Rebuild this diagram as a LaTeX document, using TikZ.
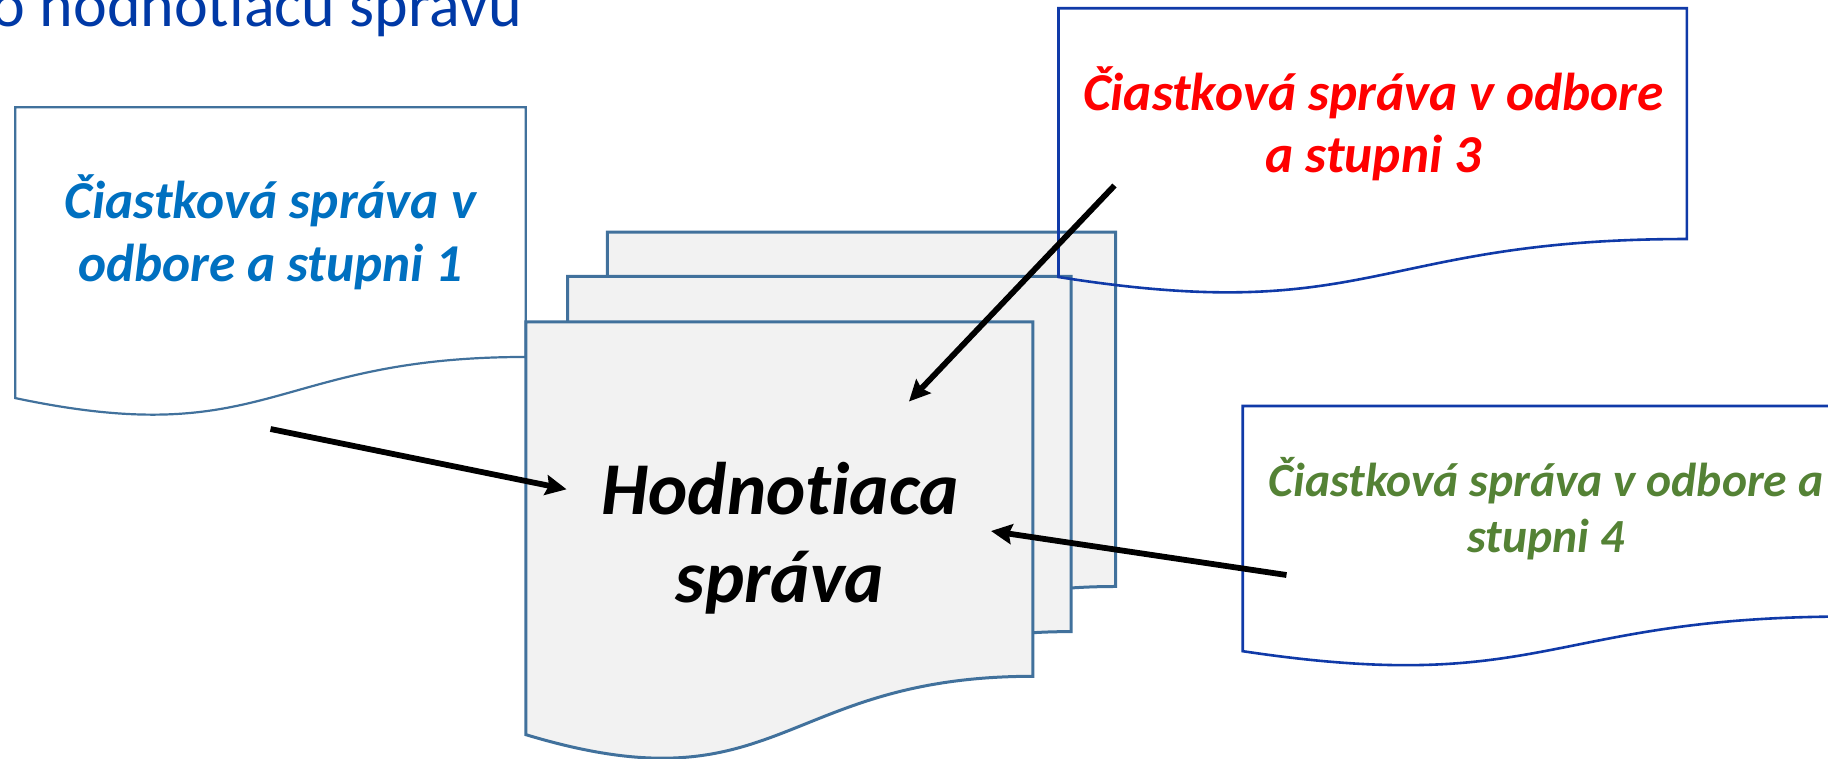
\documentclass[tikz,border=0pt]{standalone}
\usepackage{fontspec}
\setmainfont{Carlito}[Ligatures={NoCommon}]
\usetikzlibrary{arrows.meta}
\definecolor{titleblue}{RGB}{0,57,166}
\definecolor{docedge}{RGB}{65,113,156}
\definecolor{navyedge}{RGB}{16,58,168}
\definecolor{stackfill}{RGB}{242,242,242}
\definecolor{txtblue}{RGB}{0,112,192}
\definecolor{txtred}{RGB}{255,0,0}
\definecolor{txtgreen}{RGB}{84,130,53}
% document shape: style, x, y (top-left), width, height
\newcommand\docshape[5]{%
  \draw[#1] (#2,#3) -- ({#2+#4},#3) -- ({#2+#4},{#3+0.802*#5})
    .. controls ({#2+0.5*#4},{#3+0.802*#5}) and ({#2+0.5*#4},{#3+1.1075*#5})
    .. (#2,{#3+0.934*#5}) -- cycle;}
\tikzset{
  lightdoc/.style={draw=docedge, line width=2.2pt, fill=white},
  stackdoc/.style={draw=docedge, line width=3pt, fill=stackfill},
  navydoc/.style={draw=navyedge, line width=2.6pt},
  doctext/.style={anchor=base, inner sep=0pt, font=\fontsize{53.3}{62}\selectfont\bfseries\itshape},
  smalltext/.style={anchor=base, inner sep=0pt, font=\fontsize{47.6}{56}\selectfont\bfseries\itshape},
  bigtext/.style={anchor=base, inner sep=0pt, font=\fontsize{74.5}{88}\selectfont\bfseries\itshape},
  arrowline/.style={line width=5.8pt, -{Stealth[length=21pt, width=20pt, inset=3pt]}},
}
\begin{document}
\begin{tikzpicture}[x=1pt, y=-1pt]
\useasboundingbox (0,0) rectangle (1828,758);
% title fragment
\node[anchor=base east, inner sep=0pt, text=titleblue, font=\fontsize{64}{76}\selectfont] (title) at (522,26) {o hodnotiacu správu};
% documents
\docshape{lightdoc}{15.2}{107.3}{510.6}{311.3}
\docshape{stackdoc}{607.4}{232}{508.3}{442}
\docshape{stackdoc}{567.7}{276.3}{503.5}{443}
\docshape{stackdoc}{525.8}{321.8}{507.1}{442}
\docshape{navydoc}{1058.5}{8.2}{628.4}{287.8}
\docshape{navydoc}{1242.7}{406}{606}{262.5}
% texts
\node[doctext, text=txtblue] (d1a) at (270.5,218) {Čiastková správa v};
\node[doctext, text=txtblue] (d1b) at (270.5,281) {odbore a stupni 1};
\node[doctext, text=txtred] (d3a) at (1373.5,110) {Čiastková správa v odbore};
\node[doctext, text=txtred] (d3b) at (1373.5,172) {a stupni 3};
\node[smalltext, text=txtgreen] (d4a) at (1546,496) {Čiastková správa v odbore a};
\node[smalltext, text=txtgreen] (d4b) at (1546,552) {stupni 4};
\node[bigtext, text=black] (ha) at (780,514.5) {Hodnotiaca};
\node[bigtext, text=black] (hb) at (780,602) {správa};
% arrows
\coordinate (a1s) at (270.5,429);
\coordinate (a1e) at (566.6,489.3);
\coordinate (a3s) at (1114.5,185.5);
\coordinate (a3e) at (909,401.5);
\coordinate (a4s) at (1286.5,575);
\coordinate (a4e) at (991,531);
\draw[arrowline] (a1s) -- (a1e);
\draw[arrowline] (a3s) -- (a3e);
\draw[arrowline] (a4s) -- (a4e);
\end{tikzpicture}
\end{document}
